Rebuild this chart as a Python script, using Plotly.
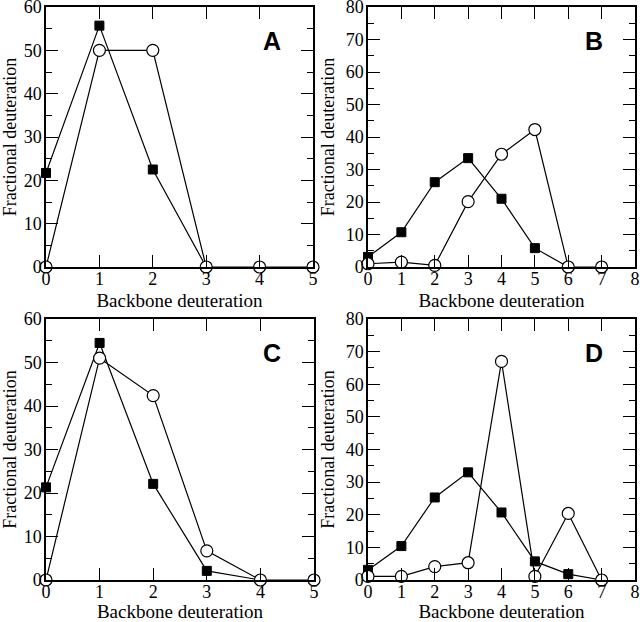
import plotly.graph_objects as go

# ---- data ----
x_a = [0, 1, 2, 3, 4, 5]
sq_a = [21.7, 55.7, 22.5, 0]
ci_a = [0, 50.0, 50.0, 0, 0, 0]

x_b = [0, 1, 2, 3, 4, 5, 6, 7]
sq_b = [3.1, 10.7, 26.1, 33.5, 21.0, 5.8, 0]
ci_b = [1.0, 1.5, 0.5, 20.1, 34.7, 42.3, 0, 0]

x_c = [0, 1, 2, 3, 4, 5]
sq_c = [21.3, 54.5, 22.1, 2.1, 0]
ci_c = [0, 51.0, 42.4, 6.7, 0, 0]

x_d = [0, 1, 2, 3, 4, 5, 6, 7]
sq_d = [3.1, 10.4, 25.3, 33.0, 20.7, 5.7, 1.8, 0]
ci_d = [1.1, 1.1, 4.1, 5.3, 67.0, 1.1, 20.4, 0]

panel_labels = ["A", "B", "C", "D"]
x_ranges = [5, 8, 5, 8]
y_ranges = [60, 80, 60, 80]
x_title = "Backbone deuteration"
y_title = "Fractional deuteration"

panels = [(x_a, sq_a, ci_a), (x_b, sq_b, ci_b), (x_c, sq_c, ci_c), (x_d, sq_d, ci_d)]

W, H = 640, 622
# pixel boxes (left, right, top, bottom)
boxes = [(46, 313, 7, 267), (368, 635, 7, 267), (46, 314, 319, 580), (368, 635, 319, 580)]

fig = go.Figure()
serif = "Liberation Serif"

for i, ((xs, sq, ci), lab, xr, yr, box) in enumerate(zip(panels, panel_labels, x_ranges, y_ranges, boxes)):
    n = "" if i == 0 else str(i + 1)
    xa, ya = "x" + n, "y" + n
    # hide square markers that coincide with a zero-valued circle
    sq_sizes = [0 if (v == 0 and ci[k] == 0) else 9 for k, v in enumerate(sq)]
    fig.add_trace(go.Scatter(
        x=xs[:len(sq)], y=sq, mode="lines+markers", xaxis=xa, yaxis=ya,
        line=dict(color="black", width=1.2),
        marker=dict(symbol="square", size=sq_sizes, color="#000000", opacity=1,
                    line=dict(color="#000000", width=1)),
        cliponaxis=False, showlegend=False))
    fig.add_trace(go.Scatter(
        x=xs[:len(ci)], y=ci, mode="lines+markers", xaxis=xa, yaxis=ya,
        line=dict(color="black", width=1.2),
        marker=dict(symbol="circle", size=12, color="white", opacity=1,
                    line=dict(color="black", width=1.2)),
        cliponaxis=False, showlegend=False))

    l, r, t, b = box
    xdom = [l / W, r / W]
    ydom = [1 - b / H, 1 - t / H]
    axcommon = dict(showline=True, linecolor="black", linewidth=1.5, mirror="ticks",
                    ticks="inside", tickcolor="black", tickwidth=1.2,
                    showgrid=False, zeroline=False, automargin=False,
                    ticklabeloverflow="allow",
                    tickfont=dict(family=serif, size=18, color="black"))
    fig.layout["xaxis" + n] = dict(
        axcommon, domain=xdom, anchor=ya, range=[0, xr], dtick=1, ticklen=12,
        ticklabelstandoff=-5,
        title=dict(text=x_title, font=dict(family=serif, size=19, color="black"), standoff=5))
    fig.layout["yaxis" + n] = dict(
        axcommon, domain=ydom, anchor=xa, range=[0, yr], dtick=10, ticklen=12,
        ticklabelstandoff=-1,
        minor=dict(ticks="inside", dtick=5, ticklen=6, tickcolor="black", tickwidth=1.2),
        title=dict(text=y_title, font=dict(family=serif, size=18, color="black"), standoff=6))
    fig.add_annotation(text="<b>%s</b>" % lab, xref=xa + " domain", yref=ya + " domain",
                       x=0.845, y=0.87, xanchor="center", yanchor="middle", showarrow=False,
                       font=dict(family="Liberation Sans", size=25, color="black"))

fig.update_layout(width=W, height=H, margin=dict(l=0, r=0, t=0, b=0, autoexpand=False),
                  paper_bgcolor="white", plot_bgcolor="white")
fig.write_html("out.html", config={"displayModeBar": False},
               post_script="document.body.style.margin='0';")
